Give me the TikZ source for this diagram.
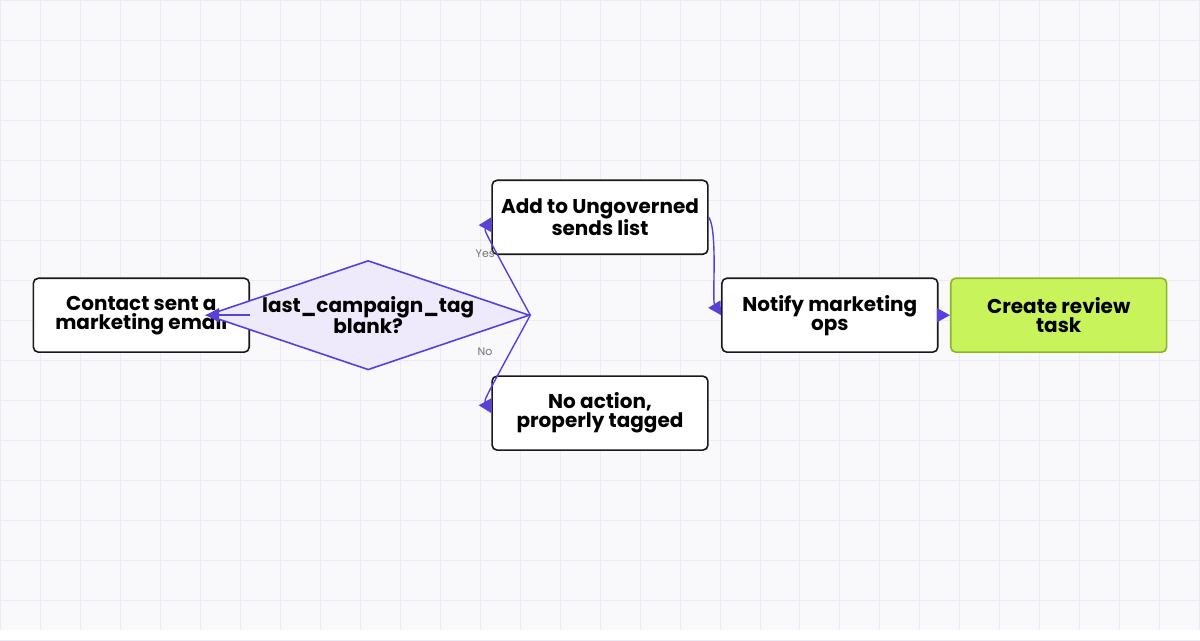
\documentclass[tikz,border=0pt]{standalone}
\usepackage{fontspec}
\setmainfont{Poppins}
\usetikzlibrary{arrows.meta,shapes.geometric}
\definecolor{bgcol}{HTML}{F9F9FC}
\definecolor{gridcol}{HTML}{ECEAF6}
\definecolor{edgecol}{HTML}{5B3FD9}
\definecolor{diafill}{HTML}{EEEAFB}
\definecolor{greenfill}{HTML}{C9F35A}
\definecolor{greenline}{HTML}{8DB52A}
\begin{document}
\begin{tikzpicture}
  [x=1pt,y=-1pt,
   box/.style={draw=black!90,line width=1.6pt,rounded corners=5pt,fill=white,
     minimum width=216pt,minimum height=74pt,align=center,
     font=\fontsize{20}{19}\selectfont\bfseries},
   choice/.style={diamond,draw=edgecol,line width=1.6pt,fill=diafill,aspect=2.95,
     minimum width=236pt,minimum height=80pt,inner sep=0pt,align=center,
     font=\fontsize{20}{19}\selectfont\bfseries},
   flow/.style={draw=edgecol,line width=1.4pt,-{Triangle[length=13pt,width=14pt]}},
   tag/.style={text=black!55,font=\fontsize{11}{11}\selectfont}]
  \fill[bgcol] (0,0) rectangle (1200,630);
  \foreach \x in {0,40,...,1200}
    \draw[gridcol,line width=0.8pt] (\x,0) -- (\x,630);
  \foreach \y in {0,40,...,640}
    \draw[gridcol,line width=0.8pt] (0,\y) -- (1200,\y);
  \useasboundingbox (0,0) rectangle (1200,630);

  \node[box] (sent) at (141,315) {Contact sent a\\marketing email};
  \node[choice] (blank) at (368,315) {last\_campaign\_tag\\blank?};
  \node[box] (list) at (600,217) {Add to Ungoverned\\sends list};
  \node[box] (none) at (600,413) {No action,\\properly tagged};
  \node[box] (notify) at (830,315) {Notify marketing\\ops};
  \node[box,fill=greenfill,draw=greenline] (task) at (1059,315) {Create review\\task};

  \draw[flow] (sent) -- (blank);
  \draw[flow] (blank.east) .. controls (484,230) .. (list.west);
  \draw[flow] (blank.east) .. controls (484,400) .. (none.west);
  \draw[flow] (list.east) .. controls (718,230) and (712,300) .. (notify.west);
  \draw[flow] (notify) -- (task);
  \node[tag] (yes) at (485,253) {Yes};
  \node[tag] (no) at (485,352) {No};
\end{tikzpicture}
\end{document}
